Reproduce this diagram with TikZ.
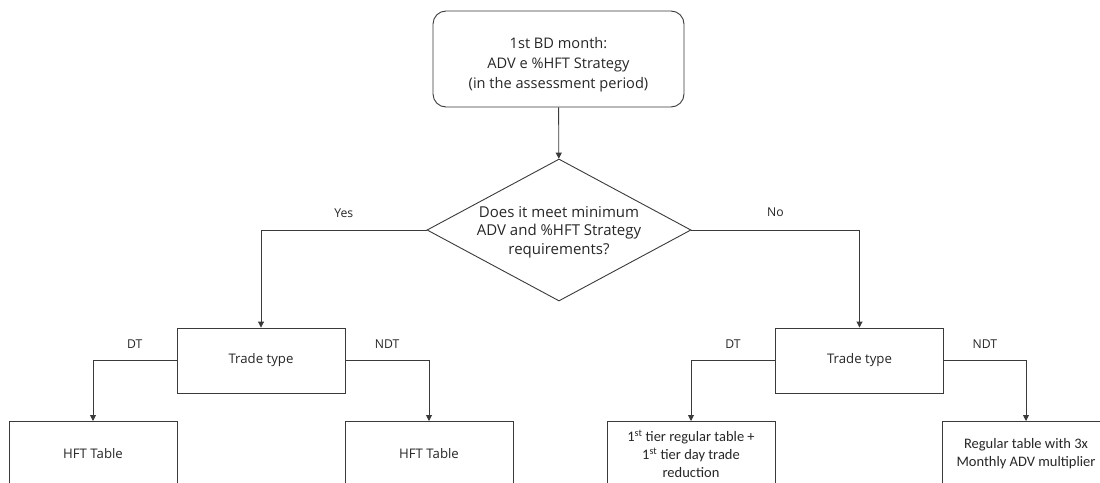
\documentclass[tikz,border=0pt]{standalone}
\usepackage{fontspec}
\setmainfont{Open Sans}
\newfontfamily\calfont{Carlito}
\usetikzlibrary{shapes.geometric,arrows.meta}
\definecolor{linec}{HTML}{3A3A3A}
\definecolor{textc}{HTML}{262626}
\tikzset{
  box/.style={draw=linec, line width=0.9pt, rectangle, minimum width=168pt, minimum height=65pt, inner sep=0pt, align=center, text=textc, font=\fontsize{13.2}{18}\selectfont},
  rbox/.style={box, rounded corners=13pt, minimum width=251pt, minimum height=96pt},
  toptext/.style={align=center, text=textc, inner sep=0pt, yshift=-6pt, font=\fontsize{14.6}{20}\selectfont},
  dec/.style={draw=linec, line width=0.9pt, diamond, minimum width=264pt, minimum height=142pt, inner sep=0pt},
  dectext/.style={align=center, text=textc, font=\fontsize{15}{18.5}\selectfont},
  arr/.style={draw=linec, line width=0.9pt, -{Triangle[width=6pt,length=6pt]}},
  lbl/.style={text=textc, font=\fontsize{12.2}{14}\selectfont, inner sep=0pt},
  cal/.style={font=\calfont\fontsize{14.5}{18}\selectfont}
}
\begin{document}
\begin{tikzpicture}[x=1pt,y=-1pt]
\useasboundingbox (0,0) rectangle (1100,482);
\clip (0,0) rectangle (1100,482);
\node[rbox, label={[toptext]center:{1st BD month:\\ADV e \%HFT Strategy\\(in the assessment period)}}] (start) at (558.5,59) {};
\node[dec] (dia) at (559,230) {};
\node[dectext] (diat) at (559,232) {Does it meet minimum\\ADV and \%HFT Strategy\\requirements?};
\node[box] (ttl) at (261,360.5) {Trade type};
\node[box] (ttr) at (859.5,360.5) {Trade type};
\node[box, anchor=north] (l1) at (93,421) {HFT Table};
\node[box, anchor=north] (l2) at (429,421) {HFT Table};
\node[box, cal, anchor=north] (r1) at (691,421) {1\textsuperscript{st} tier regular table +\\1\textsuperscript{st} tier day trade\\reduction};
\node[box, cal, anchor=north] (r2) at (1026,421) {Regular table with 3x\\Monthly ADV multiplier};
\draw[arr] (start) -- (dia);
\draw[arr] (dia.west) -| node[lbl, pos=0.25, yshift=17pt] {Yes} (ttl.north);
\draw[arr] (dia.east) -| node[lbl, pos=0.25, yshift=18pt] {No} (ttr.north);
\draw[arr] (ttl.west) -| node[lbl, pos=0.25, yshift=16pt] {DT} (l1.north);
\draw[arr] (ttl.east) -| node[lbl, pos=0.25, yshift=16pt] {NDT} (l2.north);
\draw[arr] (ttr.west) -| node[lbl, pos=0.25, yshift=16pt] {DT} (r1.north);
\draw[arr] (ttr.east) -| node[lbl, pos=0.25, yshift=16pt] {NDT} (r2.north);
\end{tikzpicture}
\end{document}
